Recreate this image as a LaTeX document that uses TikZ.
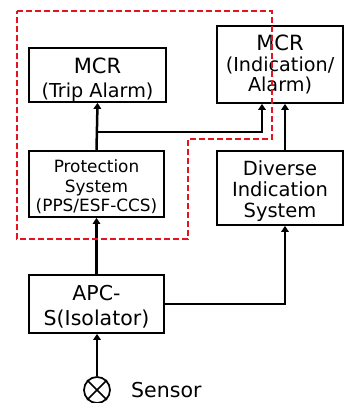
\documentclass[tikz,border=0pt]{standalone}
\usepackage{fontspec}
\setmainfont{DejaVu Sans}
\usetikzlibrary{arrows.meta}
\newcommand\liftline[1]{\rule{0pt}{#1}}
\begin{document}
\begin{tikzpicture}[x=1pt,y=-1pt,
  box/.style={draw=black,line width=1.7pt,inner sep=0pt,align=center,anchor=center},
  conn/.style={line width=2.5pt,-{Triangle[length=6pt,width=7.5pt]}},
  redzone/.style={draw={rgb,255:red,228;green,20;blue,30},line width=2.2pt,dash pattern=on 6pt off 3pt}]
\useasboundingbox (0,0) rectangle (344,403);
% boxes
\node[box,minimum width=137pt,minimum height=54pt,font=\fontsize{19.2}{24}\selectfont] (trip) at (97.5,75) {\liftline{25pt}{\fontsize{21}{24}\selectfont MCR}\\(Trip Alarm)};
\node[box,minimum width=126pt,minimum height=77pt,font=\fontsize{19.2}{20.8}\selectfont] (ind) at (280,64.5) {{\fontsize{21}{20.8}\selectfont MCR}\\(Indication/\\Alarm)};
\node[box,minimum width=135pt,minimum height=66pt,font=\fontsize{16.9}{19.5}\selectfont] (prot) at (96.5,184) {\liftline{19pt}Protection\\System\\(PPS/ESF-CCS)};
\node[box,minimum width=126pt,minimum height=74pt,font=\fontsize{19.5}{21}\selectfont] (div) at (280,188) {\liftline{20.5pt}Diverse\\Indication\\System};
\node[box,minimum width=135pt,minimum height=58pt,font=\fontsize{20.5}{25}\selectfont] (apc) at (96.5,304) {\liftline{21pt}APC-\\S(Isolator)};
\node[draw=black,line width=1.7pt,circle,minimum size=26pt,inner sep=0pt] (sens) at (97,390) {};
\draw[line width=1.7pt] (sens.north west) -- (sens.south east) (sens.north east) -- (sens.south west);
\node[font=\fontsize{20.5}{22}\selectfont,anchor=base west,inner sep=0pt] (senslbl) at (131,397) {Sensor};
% connectors
\coordinate (indin) at ([xshift=-18pt]ind.south);
\coordinate (divin) at ([xshift=5pt]div.south);
\coordinate (junc) at ([yshift=-29pt]trip.south);
\draw[conn] (prot.north) -- (trip.south);
\draw[conn] (junc -| prot.north) -| (indin);
\draw[conn] (divin |- div.north) -- (divin |- ind.south);
\draw[conn] (apc.north) -- (prot.south);
\draw[conn] (apc.east) -| (divin);
\draw[conn] (sens.north) -- (sens.north |- apc.south);
% red dashed boundary
\draw[redzone] (17,11) -- (272,11) -- (272,139) -- (188,139) -- (188,239) -- (17,239) -- cycle;
\end{tikzpicture}
\end{document}
